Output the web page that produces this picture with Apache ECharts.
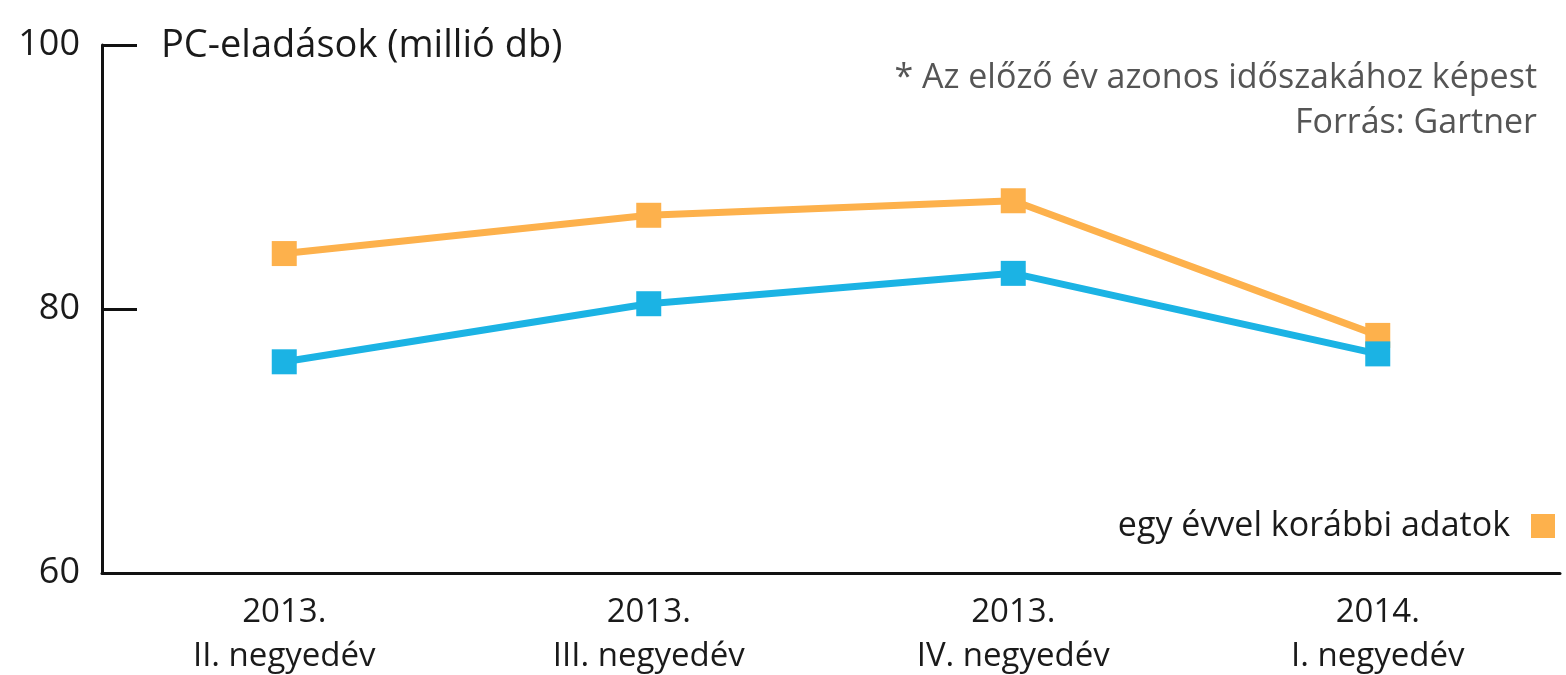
<!DOCTYPE html>
<html>
<head>
<meta charset="utf-8">
<script src="https://cdn.jsdelivr.net/npm/echarts@6/dist/echarts.min.js"></script>
<style>
  html, body { margin: 0; padding: 0; background: #fff; }
  #chart { width: 1566px; height: 675px; }
</style>
</head>
<body>
<div id="chart"></div>
<script>
// negyedévek
var quarters = ['2013.\nII. negyedév', '2013.\nIII. negyedév', '2013.\nIV. negyedév', '2014.\nI. negyedév'];
// PC-eladások, millió db
var sales = [76.0, 80.4, 82.7, 76.6];
// egy évvel korábbi adatok
var salesPrevYear = [84.2, 87.1, 88.2, 78.0];
var yTicks = [60, 80, 100];

var fontName = '"Open Sans", "Noto Sans", sans-serif';
var chart = echarts.init(document.getElementById('chart'));

chart.setOption({
    animation: false,
    textStyle: { fontFamily: fontName },
    grid: { left: 102, right: 6, top: 45, bottom: 102, outerBoundsMode: 'none' },
    title: [
        {
            text: 'PC-eladások (millió db)',
            left: 156,
            top: 22,
            textStyle: { fontSize: 38, fontWeight: 'normal', color: '#1a1a1a', fontFamily: fontName }
        },
        {
            text: '* Az előző év azonos időszakához képest',
            right: 24,
            top: 56,
            textStyle: { fontSize: 34, fontWeight: 'normal', color: '#555', fontFamily: fontName }
        },
        {
            text: 'Forrás: Gartner',
            right: 24,
            top: 101,
            textStyle: { fontSize: 34, fontWeight: 'normal', color: '#555', fontFamily: fontName }
        }
    ],
    legend: {
        data: ['egy évvel korábbi adatok'],
        right: 6,
        top: 504,
        align: 'right',
        icon: 'rect',
        itemWidth: 24,
        itemHeight: 24,
        itemGap: 0,
        textStyle: { fontSize: 34, color: '#1a1a1a', fontFamily: fontName, padding: [0, 16, 0, 0] }
    },
    xAxis: {
        type: 'category',
        data: quarters,
        boundaryGap: true,
        axisLine: { lineStyle: { color: '#111', width: 3 } },
        axisTick: { inside: true, length: 7, lineStyle: { color: '#111', width: 3 } },
        axisLabel: {
            fontSize: 33, color: '#1a1a1a', lineHeight: 44, margin: 18,
            fontFamily: fontName
        },
        splitLine: { show: false }
    },
    yAxis: {
        type: 'value',
        min: yTicks[0],
        max: yTicks[yTicks.length - 1],
        interval: 20,
        axisLine: { show: true, lineStyle: { color: '#111', width: 3 } },
        axisTick: { show: true, inside: true, length: 35, lineStyle: { color: '#111', width: 3 } },
        axisLabel: { fontSize: 36, color: '#1a1a1a', margin: 22, fontFamily: fontName },
        splitLine: { show: false }
    },
    series: [
        {
            name: 'egy évvel korábbi adatok',
            type: 'line',
            data: salesPrevYear,
            symbol: 'rect',
            symbolSize: 25,
            lineStyle: { color: '#fdb14c', width: 7 },
            itemStyle: { color: '#fdb14c' }
        },
        {
            name: 'PC-eladások',
            type: 'line',
            data: sales,
            symbol: 'rect',
            symbolSize: 25,
            lineStyle: { color: '#1bb3e4', width: 7 },
            itemStyle: { color: '#1bb3e4' }
        }
    ]
});
</script>
</body>
</html>
